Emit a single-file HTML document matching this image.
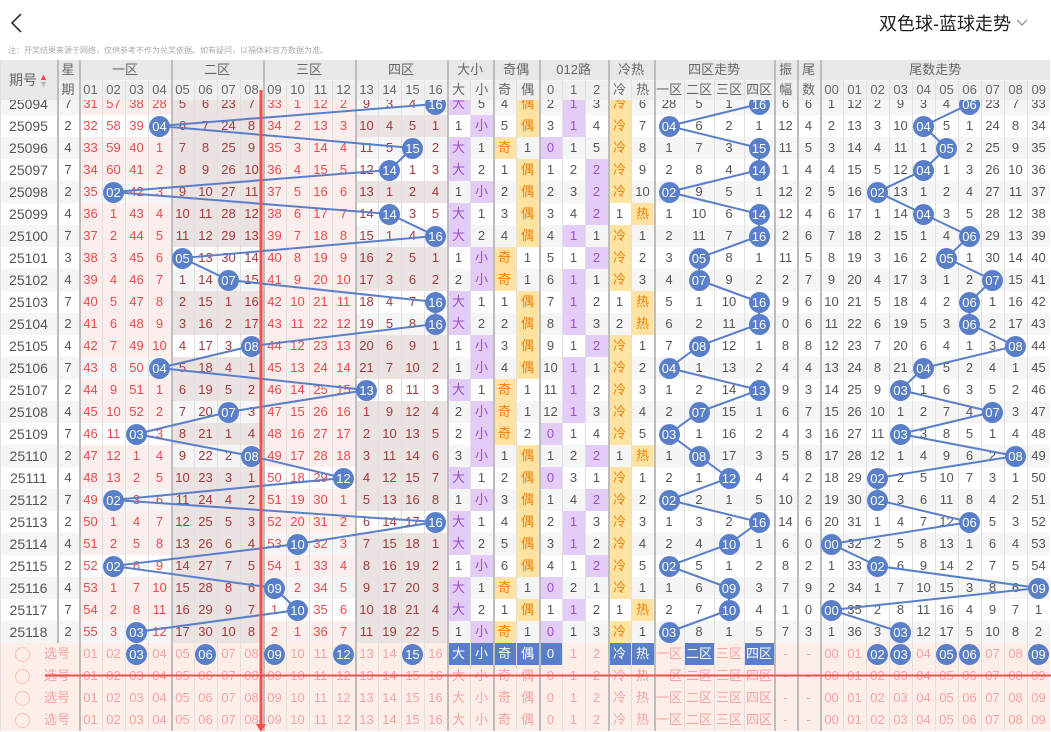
<!DOCTYPE html>
<html><head><meta charset="utf-8">
<style>
*{box-sizing:border-box;margin:0;padding:0}
body{width:1051px;height:732px;overflow:hidden;background:#fff;font-family:"Liberation Sans","Noto Sans CJK SC",sans-serif;position:relative}
table{border-collapse:separate;border-spacing:0;table-layout:fixed;width:1050px}
td{height:22px;text-align:center;font-size:13px;color:#555;padding:0;white-space:nowrap;overflow:visible;box-shadow:inset 1px 0 #e0e0e0;line-height:22px}
#hd{position:absolute;left:0;top:60px;z-index:5;background:#e8e8e8}
#hd td{height:20px;line-height:20px;color:#666;font-size:13px;background:#e8e8e8}
#hd tr.s td{background:#efefef;box-shadow:inset 1px 0 #e0e0e0,inset 0 1px #f6f6f6}
#hd td.g,#hd tr.s td.g{box-shadow:inset 2px 0 #bdbdbd}
#bw{position:absolute;left:0;top:100px;width:1051px;height:543px;overflow:hidden}
#bi{position:absolute;left:0;top:-7px}
#bt tr.e td{background:#f5f5f5}
#bt td:nth-child(n+3):nth-child(-n+6),#bt td:nth-child(n+11):nth-child(-n+14){background:#fdeeee!important;color:#ec4a4a}
#bt td:nth-child(n+7):nth-child(-n+10),#bt td:nth-child(n+15):nth-child(-n+18){background:#ebe2e2!important;color:#a53a3a}
#bt tr.z1 td:nth-child(n+3):nth-child(-n+6),#bt tr.z2 td:nth-child(n+7):nth-child(-n+10),#bt tr.z3 td:nth-child(n+11):nth-child(-n+14),#bt tr.z4 td:nth-child(n+15):nth-child(-n+18){background:#fff!important}
#bt tr.e.z1 td:nth-child(n+3):nth-child(-n+6),#bt tr.e.z2 td:nth-child(n+7):nth-child(-n+10),#bt tr.e.z3 td:nth-child(n+11):nth-child(-n+14),#bt tr.e.z4 td:nth-child(n+15):nth-child(-n+18){background:#f5f5f5!important}
#bt td:nth-child(2),#bt td:nth-child(3),#bt td:nth-child(7),#bt td:nth-child(11),#bt td:nth-child(15),#bt td:nth-child(19),#bt td:nth-child(21),#bt td:nth-child(23),#bt td:nth-child(26),#bt td:nth-child(28),#bt td:nth-child(32),#bt td:nth-child(33),#bt td:nth-child(34){box-shadow:inset 2px 0 #bdbdbd}
#bt td:first-child{font-size:14px;color:#555}
td.p{background:#e3cdf6!important;color:#9a4fd0!important}
td.o{background:#ffe3a2!important;color:#f37d00!important}
.b{position:relative;z-index:3;display:inline-block;width:21px;height:21px;line-height:21px;border-radius:50%;background:#5a7fca;color:#fff;font-size:13px;vertical-align:middle;margin-top:-1px}
#ln{position:absolute;left:0;top:0;z-index:2}
#st{position:absolute;left:0;top:643px}
#st td{background:#fdeee8;color:#f5a3a3;font-size:13px}
#st td:nth-child(2),#st td:nth-child(6),#st td:nth-child(10),#st td:nth-child(14),#st td:nth-child(18),#st td:nth-child(20),#st td:nth-child(22),#st td:nth-child(25),#st td:nth-child(27),#st td:nth-child(31),#st td:nth-child(32),#st td:nth-child(33){box-shadow:inset 2px 0 #bdbdbd}
#st td.f{background:#5a7fca;color:#fff}
.ci{display:inline-block;width:15px;height:15px;border:1px solid #f7c0b8;border-radius:50%;vertical-align:middle;margin-right:14px;margin-left:15px}
</style></head><body>
<svg style="position:absolute;left:10px;top:12px" width="14" height="22"><polyline points="11,2 2,11 11,20" fill="none" stroke="#333" stroke-width="1.6"/></svg>
<div style="position:absolute;left:879px;top:10px;font-size:18px;color:#222;font-family:'Liberation Sans','Noto Sans CJK SC',sans-serif">双色球-蓝球走势</div>
<svg style="position:absolute;left:1016px;top:18px" width="14" height="10"><polyline points="1,2 6,7 11,2" fill="none" stroke="#888" stroke-width="1.2"/></svg>
<div style="position:absolute;left:8px;top:45px;font-size:8px;color:#aaa">注：开奖结果来源于网络，仅供参考不作为兑奖依据。如有疑问，以福体彩官方数据为准。</div>

<table id="hd">
<colgroup><col style="width:57px"><col style="width:22px"><col span="16" style="width:23px"><col span="4" style="width:23px"><col span="3" style="width:23px"><col span="2" style="width:23px"><col span="4" style="width:30px"><col span="2" style="width:23px"><col span="10" style="width:23px"></colgroup>
<tr><td rowspan="2" style="font-size:14px">期号<span style="font-size:9px;display:inline-block;line-height:7px;vertical-align:middle;margin-left:2px"><span style="color:#f44">▲</span><br><span style="color:#bbb">▼</span></span></td><td class="g">星</td><td class="g" colspan="4">一区</td><td class="g" colspan="4">二区</td><td class="g" colspan="4">三区</td><td class="g" colspan="4">四区</td><td class="g" colspan="2">大小</td><td class="g" colspan="2">奇偶</td><td class="g" colspan="3">012路</td><td class="g" colspan="2">冷热</td><td class="g" colspan="4">四区走势</td><td class="g">振</td><td class="g">尾</td><td class="g" colspan="10">尾数走势</td></tr>
<tr class="s"><td class="g">期</td><td class="g">01</td><td>02</td><td>03</td><td>04</td><td class="g">05</td><td>06</td><td>07</td><td>08</td><td class="g">09</td><td>10</td><td>11</td><td>12</td><td class="g">13</td><td>14</td><td>15</td><td>16</td><td class="g">大</td><td>小</td><td class="g">奇</td><td>偶</td><td class="g">0</td><td>1</td><td>2</td><td class="g">冷</td><td>热</td><td class="g">一区</td><td>二区</td><td>三区</td><td>四区</td><td class="g">幅</td><td class="g">数</td><td class="g">00</td><td>01</td><td>02</td><td>03</td><td>04</td><td>05</td><td>06</td><td>07</td><td>08</td><td>09</td></tr>
</table>

<div id="bw"><div id="bi">
<svg id="ln" width="1051" height="560"><g fill="none" stroke="#5a7fca" stroke-width="2">
<polyline points="435.5,11 159.5,33 412.5,55 389.5,77 113.5,99 389.5,121 435.5,143 182.5,165 228.5,187 435.5,209 435.5,231 251.5,253 159.5,275 366.5,297 228.5,319 136.5,341 251.5,363 343.5,385 113.5,407 435.5,429 297.5,451 113.5,473 274.5,495 297.5,517 136.5,539"/>
<polyline points="759,11 669,33 759,55 759,77 669,99 759,121 759,143 699,165 699,187 759,209 759,231 699,253 669,275 759,297 699,319 669,341 699,363 729,385 669,407 759,429 729,451 669,473 729,495 729,517 669,539"/>
<polyline points="969.5,11 923.5,33 946.5,55 923.5,77 877.5,99 923.5,121 969.5,143 946.5,165 992.5,187 969.5,209 969.5,231 1015.5,253 923.5,275 900.5,297 992.5,319 900.5,341 1015.5,363 877.5,385 877.5,407 969.5,429 831.5,451 877.5,473 1038.5,495 831.5,517 900.5,539"/>
</g></svg>
<table id="bt">
<colgroup><col style="width:57px"><col style="width:22px"><col span="16" style="width:23px"><col span="4" style="width:23px"><col span="3" style="width:23px"><col span="2" style="width:23px"><col span="4" style="width:30px"><col span="2" style="width:23px"><col span="10" style="width:23px"></colgroup>
<tr class="e z4"><td>25094</td><td>7</td><td>31</td><td>57</td><td>38</td><td>28</td><td>5</td><td>6</td><td>23</td><td>7</td><td>33</td><td>1</td><td>12</td><td>2</td><td>9</td><td>3</td><td>4</td><td><span class="b">16</span></td><td class="p">大</td><td>5</td><td>4</td><td class="o">偶</td><td>2</td><td class="p">1</td><td>3</td><td class="o">冷</td><td>6</td><td>28</td><td>5</td><td>1</td><td><span class="b">16</span></td><td>6</td><td>6</td><td>1</td><td>12</td><td>2</td><td>9</td><td>3</td><td>4</td><td><span class="b">06</span></td><td>23</td><td>7</td><td>33</td></tr>
<tr class="z1"><td>25095</td><td>2</td><td>32</td><td>58</td><td>39</td><td><span class="b">04</span></td><td>6</td><td>7</td><td>24</td><td>8</td><td>34</td><td>2</td><td>13</td><td>3</td><td>10</td><td>4</td><td>5</td><td>1</td><td>1</td><td class="p">小</td><td>5</td><td class="o">偶</td><td>3</td><td class="p">1</td><td>4</td><td class="o">冷</td><td>7</td><td><span class="b">04</span></td><td>6</td><td>2</td><td>1</td><td>12</td><td>4</td><td>2</td><td>13</td><td>3</td><td>10</td><td><span class="b">04</span></td><td>5</td><td>1</td><td>24</td><td>8</td><td>34</td></tr>
<tr class="e z4"><td>25096</td><td>4</td><td>33</td><td>59</td><td>40</td><td>1</td><td>7</td><td>8</td><td>25</td><td>9</td><td>35</td><td>3</td><td>14</td><td>4</td><td>11</td><td>5</td><td><span class="b">15</span></td><td>2</td><td class="p">大</td><td>1</td><td class="o">奇</td><td>1</td><td class="p">0</td><td>1</td><td>5</td><td class="o">冷</td><td>8</td><td>1</td><td>7</td><td>3</td><td><span class="b">15</span></td><td>11</td><td>5</td><td>3</td><td>14</td><td>4</td><td>11</td><td>1</td><td><span class="b">05</span></td><td>2</td><td>25</td><td>9</td><td>35</td></tr>
<tr class="z4"><td>25097</td><td>7</td><td>34</td><td>60</td><td>41</td><td>2</td><td>8</td><td>9</td><td>26</td><td>10</td><td>36</td><td>4</td><td>15</td><td>5</td><td>12</td><td><span class="b">14</span></td><td>1</td><td>3</td><td class="p">大</td><td>2</td><td>1</td><td class="o">偶</td><td>1</td><td>2</td><td class="p">2</td><td class="o">冷</td><td>9</td><td>2</td><td>8</td><td>4</td><td><span class="b">14</span></td><td>1</td><td>4</td><td>4</td><td>15</td><td>5</td><td>12</td><td><span class="b">04</span></td><td>1</td><td>3</td><td>26</td><td>10</td><td>36</td></tr>
<tr class="e z1"><td>25098</td><td>2</td><td>35</td><td><span class="b">02</span></td><td>42</td><td>3</td><td>9</td><td>10</td><td>27</td><td>11</td><td>37</td><td>5</td><td>16</td><td>6</td><td>13</td><td>1</td><td>2</td><td>4</td><td>1</td><td class="p">小</td><td>2</td><td class="o">偶</td><td>2</td><td>3</td><td class="p">2</td><td class="o">冷</td><td>10</td><td><span class="b">02</span></td><td>9</td><td>5</td><td>1</td><td>12</td><td>2</td><td>5</td><td>16</td><td><span class="b">02</span></td><td>13</td><td>1</td><td>2</td><td>4</td><td>27</td><td>11</td><td>37</td></tr>
<tr class="z4"><td>25099</td><td>4</td><td>36</td><td>1</td><td>43</td><td>4</td><td>10</td><td>11</td><td>28</td><td>12</td><td>38</td><td>6</td><td>17</td><td>7</td><td>14</td><td><span class="b">14</span></td><td>3</td><td>5</td><td class="p">大</td><td>1</td><td>3</td><td class="o">偶</td><td>3</td><td>4</td><td class="p">2</td><td>1</td><td class="o">热</td><td>1</td><td>10</td><td>6</td><td><span class="b">14</span></td><td>12</td><td>4</td><td>6</td><td>17</td><td>1</td><td>14</td><td><span class="b">04</span></td><td>3</td><td>5</td><td>28</td><td>12</td><td>38</td></tr>
<tr class="e z4"><td>25100</td><td>7</td><td>37</td><td>2</td><td>44</td><td>5</td><td>11</td><td>12</td><td>29</td><td>13</td><td>39</td><td>7</td><td>18</td><td>8</td><td>15</td><td>1</td><td>4</td><td><span class="b">16</span></td><td class="p">大</td><td>2</td><td>4</td><td class="o">偶</td><td>4</td><td class="p">1</td><td>1</td><td class="o">冷</td><td>1</td><td>2</td><td>11</td><td>7</td><td><span class="b">16</span></td><td>2</td><td>6</td><td>7</td><td>18</td><td>2</td><td>15</td><td>1</td><td>4</td><td><span class="b">06</span></td><td>29</td><td>13</td><td>39</td></tr>
<tr class="z2"><td>25101</td><td>3</td><td>38</td><td>3</td><td>45</td><td>6</td><td><span class="b">05</span></td><td>13</td><td>30</td><td>14</td><td>40</td><td>8</td><td>19</td><td>9</td><td>16</td><td>2</td><td>5</td><td>1</td><td>1</td><td class="p">小</td><td class="o">奇</td><td>1</td><td>5</td><td>1</td><td class="p">2</td><td class="o">冷</td><td>2</td><td>3</td><td><span class="b">05</span></td><td>8</td><td>1</td><td>11</td><td>5</td><td>8</td><td>19</td><td>3</td><td>16</td><td>2</td><td><span class="b">05</span></td><td>1</td><td>30</td><td>14</td><td>40</td></tr>
<tr class="e z2"><td>25102</td><td>4</td><td>39</td><td>4</td><td>46</td><td>7</td><td>1</td><td>14</td><td><span class="b">07</span></td><td>15</td><td>41</td><td>9</td><td>20</td><td>10</td><td>17</td><td>3</td><td>6</td><td>2</td><td>2</td><td class="p">小</td><td class="o">奇</td><td>1</td><td>6</td><td class="p">1</td><td>1</td><td class="o">冷</td><td>3</td><td>4</td><td><span class="b">07</span></td><td>9</td><td>2</td><td>2</td><td>7</td><td>9</td><td>20</td><td>4</td><td>17</td><td>3</td><td>1</td><td>2</td><td><span class="b">07</span></td><td>15</td><td>41</td></tr>
<tr class="z4"><td>25103</td><td>7</td><td>40</td><td>5</td><td>47</td><td>8</td><td>2</td><td>15</td><td>1</td><td>16</td><td>42</td><td>10</td><td>21</td><td>11</td><td>18</td><td>4</td><td>7</td><td><span class="b">16</span></td><td class="p">大</td><td>1</td><td>1</td><td class="o">偶</td><td>7</td><td class="p">1</td><td>2</td><td>1</td><td class="o">热</td><td>5</td><td>1</td><td>10</td><td><span class="b">16</span></td><td>9</td><td>6</td><td>10</td><td>21</td><td>5</td><td>18</td><td>4</td><td>2</td><td><span class="b">06</span></td><td>1</td><td>16</td><td>42</td></tr>
<tr class="e z4"><td>25104</td><td>2</td><td>41</td><td>6</td><td>48</td><td>9</td><td>3</td><td>16</td><td>2</td><td>17</td><td>43</td><td>11</td><td>22</td><td>12</td><td>19</td><td>5</td><td>8</td><td><span class="b">16</span></td><td class="p">大</td><td>2</td><td>2</td><td class="o">偶</td><td>8</td><td class="p">1</td><td>3</td><td>2</td><td class="o">热</td><td>6</td><td>2</td><td>11</td><td><span class="b">16</span></td><td>0</td><td>6</td><td>11</td><td>22</td><td>6</td><td>19</td><td>5</td><td>3</td><td><span class="b">06</span></td><td>2</td><td>17</td><td>43</td></tr>
<tr class="z2"><td>25105</td><td>4</td><td>42</td><td>7</td><td>49</td><td>10</td><td>4</td><td>17</td><td>3</td><td><span class="b">08</span></td><td>44</td><td>12</td><td>23</td><td>13</td><td>20</td><td>6</td><td>9</td><td>1</td><td>1</td><td class="p">小</td><td>3</td><td class="o">偶</td><td>9</td><td>1</td><td class="p">2</td><td class="o">冷</td><td>1</td><td>7</td><td><span class="b">08</span></td><td>12</td><td>1</td><td>8</td><td>8</td><td>12</td><td>23</td><td>7</td><td>20</td><td>6</td><td>4</td><td>1</td><td>3</td><td><span class="b">08</span></td><td>44</td></tr>
<tr class="e z1"><td>25106</td><td>7</td><td>43</td><td>8</td><td>50</td><td><span class="b">04</span></td><td>5</td><td>18</td><td>4</td><td>1</td><td>45</td><td>13</td><td>24</td><td>14</td><td>21</td><td>7</td><td>10</td><td>2</td><td>1</td><td class="p">小</td><td>4</td><td class="o">偶</td><td>10</td><td class="p">1</td><td>1</td><td class="o">冷</td><td>2</td><td><span class="b">04</span></td><td>1</td><td>13</td><td>2</td><td>4</td><td>4</td><td>13</td><td>24</td><td>8</td><td>21</td><td><span class="b">04</span></td><td>5</td><td>2</td><td>4</td><td>1</td><td>45</td></tr>
<tr class="z4"><td>25107</td><td>2</td><td>44</td><td>9</td><td>51</td><td>1</td><td>6</td><td>19</td><td>5</td><td>2</td><td>46</td><td>14</td><td>25</td><td>15</td><td><span class="b">13</span></td><td>8</td><td>11</td><td>3</td><td class="p">大</td><td>1</td><td class="o">奇</td><td>1</td><td>11</td><td class="p">1</td><td>2</td><td class="o">冷</td><td>3</td><td>1</td><td>2</td><td>14</td><td><span class="b">13</span></td><td>9</td><td>3</td><td>14</td><td>25</td><td>9</td><td><span class="b">03</span></td><td>1</td><td>6</td><td>3</td><td>5</td><td>2</td><td>46</td></tr>
<tr class="e z2"><td>25108</td><td>4</td><td>45</td><td>10</td><td>52</td><td>2</td><td>7</td><td>20</td><td><span class="b">07</span></td><td>3</td><td>47</td><td>15</td><td>26</td><td>16</td><td>1</td><td>9</td><td>12</td><td>4</td><td>2</td><td class="p">小</td><td class="o">奇</td><td>1</td><td>12</td><td class="p">1</td><td>3</td><td class="o">冷</td><td>4</td><td>2</td><td><span class="b">07</span></td><td>15</td><td>1</td><td>6</td><td>7</td><td>15</td><td>26</td><td>10</td><td>1</td><td>2</td><td>7</td><td>4</td><td><span class="b">07</span></td><td>3</td><td>47</td></tr>
<tr class="z1"><td>25109</td><td>7</td><td>46</td><td>11</td><td><span class="b">03</span></td><td>3</td><td>8</td><td>21</td><td>1</td><td>4</td><td>48</td><td>16</td><td>27</td><td>17</td><td>2</td><td>10</td><td>13</td><td>5</td><td>2</td><td class="p">小</td><td class="o">奇</td><td>2</td><td class="p">0</td><td>1</td><td>4</td><td class="o">冷</td><td>5</td><td><span class="b">03</span></td><td>1</td><td>16</td><td>2</td><td>4</td><td>3</td><td>16</td><td>27</td><td>11</td><td><span class="b">03</span></td><td>3</td><td>8</td><td>5</td><td>1</td><td>4</td><td>48</td></tr>
<tr class="e z2"><td>25110</td><td>2</td><td>47</td><td>12</td><td>1</td><td>4</td><td>9</td><td>22</td><td>2</td><td><span class="b">08</span></td><td>49</td><td>17</td><td>28</td><td>18</td><td>3</td><td>11</td><td>14</td><td>6</td><td>3</td><td class="p">小</td><td>1</td><td class="o">偶</td><td>1</td><td>2</td><td class="p">2</td><td>1</td><td class="o">热</td><td>1</td><td><span class="b">08</span></td><td>17</td><td>3</td><td>5</td><td>8</td><td>17</td><td>28</td><td>12</td><td>1</td><td>4</td><td>9</td><td>6</td><td>2</td><td><span class="b">08</span></td><td>49</td></tr>
<tr class="z3"><td>25111</td><td>4</td><td>48</td><td>13</td><td>2</td><td>5</td><td>10</td><td>23</td><td>3</td><td>1</td><td>50</td><td>18</td><td>29</td><td><span class="b">12</span></td><td>4</td><td>12</td><td>15</td><td>7</td><td class="p">大</td><td>1</td><td>2</td><td class="o">偶</td><td class="p">0</td><td>3</td><td>1</td><td class="o">冷</td><td>1</td><td>2</td><td>1</td><td><span class="b">12</span></td><td>4</td><td>4</td><td>2</td><td>18</td><td>29</td><td><span class="b">02</span></td><td>2</td><td>5</td><td>10</td><td>7</td><td>3</td><td>1</td><td>50</td></tr>
<tr class="e z1"><td>25112</td><td>7</td><td>49</td><td><span class="b">02</span></td><td>3</td><td>6</td><td>11</td><td>24</td><td>4</td><td>2</td><td>51</td><td>19</td><td>30</td><td>1</td><td>5</td><td>13</td><td>16</td><td>8</td><td>1</td><td class="p">小</td><td>3</td><td class="o">偶</td><td>1</td><td>4</td><td class="p">2</td><td class="o">冷</td><td>2</td><td><span class="b">02</span></td><td>2</td><td>1</td><td>5</td><td>10</td><td>2</td><td>19</td><td>30</td><td><span class="b">02</span></td><td>3</td><td>6</td><td>11</td><td>8</td><td>4</td><td>2</td><td>51</td></tr>
<tr class="z4"><td>25113</td><td>2</td><td>50</td><td>1</td><td>4</td><td>7</td><td>12</td><td>25</td><td>5</td><td>3</td><td>52</td><td>20</td><td>31</td><td>2</td><td>6</td><td>14</td><td>17</td><td><span class="b">16</span></td><td class="p">大</td><td>1</td><td>4</td><td class="o">偶</td><td>2</td><td class="p">1</td><td>3</td><td class="o">冷</td><td>3</td><td>1</td><td>3</td><td>2</td><td><span class="b">16</span></td><td>14</td><td>6</td><td>20</td><td>31</td><td>1</td><td>4</td><td>7</td><td>12</td><td><span class="b">06</span></td><td>5</td><td>3</td><td>52</td></tr>
<tr class="e z3"><td>25114</td><td>4</td><td>51</td><td>2</td><td>5</td><td>8</td><td>13</td><td>26</td><td>6</td><td>4</td><td>53</td><td><span class="b">10</span></td><td>32</td><td>3</td><td>7</td><td>15</td><td>18</td><td>1</td><td class="p">大</td><td>2</td><td>5</td><td class="o">偶</td><td>3</td><td class="p">1</td><td>2</td><td class="o">冷</td><td>4</td><td>2</td><td>4</td><td><span class="b">10</span></td><td>1</td><td>6</td><td>0</td><td><span class="b">00</span></td><td>32</td><td>2</td><td>5</td><td>8</td><td>13</td><td>1</td><td>6</td><td>4</td><td>53</td></tr>
<tr class="z1"><td>25115</td><td>2</td><td>52</td><td><span class="b">02</span></td><td>6</td><td>9</td><td>14</td><td>27</td><td>7</td><td>5</td><td>54</td><td>1</td><td>33</td><td>4</td><td>8</td><td>16</td><td>19</td><td>2</td><td>1</td><td class="p">小</td><td>6</td><td class="o">偶</td><td>4</td><td>1</td><td class="p">2</td><td class="o">冷</td><td>5</td><td><span class="b">02</span></td><td>5</td><td>1</td><td>2</td><td>8</td><td>2</td><td>1</td><td>33</td><td><span class="b">02</span></td><td>6</td><td>9</td><td>14</td><td>2</td><td>7</td><td>5</td><td>54</td></tr>
<tr class="e z3"><td>25116</td><td>4</td><td>53</td><td>1</td><td>7</td><td>10</td><td>15</td><td>28</td><td>8</td><td>6</td><td><span class="b">09</span></td><td>2</td><td>34</td><td>5</td><td>9</td><td>17</td><td>20</td><td>3</td><td class="p">大</td><td>1</td><td class="o">奇</td><td>1</td><td class="p">0</td><td>2</td><td>1</td><td class="o">冷</td><td>1</td><td>1</td><td>6</td><td><span class="b">09</span></td><td>3</td><td>7</td><td>9</td><td>2</td><td>34</td><td>1</td><td>7</td><td>10</td><td>15</td><td>3</td><td>8</td><td>6</td><td><span class="b">09</span></td></tr>
<tr class="z3"><td>25117</td><td>7</td><td>54</td><td>2</td><td>8</td><td>11</td><td>16</td><td>29</td><td>9</td><td>7</td><td>1</td><td><span class="b">10</span></td><td>35</td><td>6</td><td>10</td><td>18</td><td>21</td><td>4</td><td class="p">大</td><td>2</td><td>1</td><td class="o">偶</td><td>1</td><td class="p">1</td><td>2</td><td>1</td><td class="o">热</td><td>2</td><td>7</td><td><span class="b">10</span></td><td>4</td><td>1</td><td>0</td><td><span class="b">00</span></td><td>35</td><td>2</td><td>8</td><td>11</td><td>16</td><td>4</td><td>9</td><td>7</td><td>1</td></tr>
<tr class="e z1"><td>25118</td><td>2</td><td>55</td><td>3</td><td><span class="b">03</span></td><td>12</td><td>17</td><td>30</td><td>10</td><td>8</td><td>2</td><td>1</td><td>36</td><td>7</td><td>11</td><td>19</td><td>22</td><td>5</td><td>1</td><td class="p">小</td><td class="o">奇</td><td>1</td><td class="p">0</td><td>1</td><td>3</td><td class="o">冷</td><td>1</td><td><span class="b">03</span></td><td>8</td><td>1</td><td>5</td><td>7</td><td>3</td><td>1</td><td>36</td><td>3</td><td><span class="b">03</span></td><td>12</td><td>17</td><td>5</td><td>10</td><td>8</td><td>2</td></tr>
</table>
</div></div>

<table id="st">
<colgroup><col style="width:79px"><col span="16" style="width:23px"><col span="4" style="width:23px"><col span="3" style="width:23px"><col span="2" style="width:23px"><col span="4" style="width:30px"><col span="2" style="width:23px"><col span="10" style="width:23px"></colgroup>
<tr><td style="text-align:left"><span class="ci"></span>选号</td><td>01</td><td>02</td><td><span class="b">03</span></td><td>04</td><td>05</td><td><span class="b">06</span></td><td>07</td><td>08</td><td><span class="b">09</span></td><td>10</td><td>11</td><td><span class="b">12</span></td><td>13</td><td>14</td><td><span class="b">15</span></td><td>16</td><td class="f">大</td><td class="f">小</td><td class="f">奇</td><td class="f">偶</td><td class="f">0</td><td>1</td><td>2</td><td class="f">冷</td><td class="f">热</td><td>一区</td><td class="f">二区</td><td>三区</td><td class="f">四区</td><td>-</td><td>-</td><td>00</td><td>01</td><td><span class="b">02</span></td><td><span class="b">03</span></td><td>04</td><td><span class="b">05</span></td><td><span class="b">06</span></td><td>07</td><td>08</td><td><span class="b">09</span></td></tr>
<tr><td style="text-align:left"><span class="ci"></span>选号</td><td>01</td><td>02</td><td>03</td><td>04</td><td>05</td><td>06</td><td>07</td><td>08</td><td>09</td><td>10</td><td>11</td><td>12</td><td>13</td><td>14</td><td>15</td><td>16</td><td>大</td><td>小</td><td>奇</td><td>偶</td><td>0</td><td>1</td><td>2</td><td>冷</td><td>热</td><td>一区</td><td>二区</td><td>三区</td><td>四区</td><td>-</td><td>-</td><td>00</td><td>01</td><td>02</td><td>03</td><td>04</td><td>05</td><td>06</td><td>07</td><td>08</td><td>09</td></tr>
<tr><td style="text-align:left"><span class="ci"></span>选号</td><td>01</td><td>02</td><td>03</td><td>04</td><td>05</td><td>06</td><td>07</td><td>08</td><td>09</td><td>10</td><td>11</td><td>12</td><td>13</td><td>14</td><td>15</td><td>16</td><td>大</td><td>小</td><td>奇</td><td>偶</td><td>0</td><td>1</td><td>2</td><td>冷</td><td>热</td><td>一区</td><td>二区</td><td>三区</td><td>四区</td><td>-</td><td>-</td><td>00</td><td>01</td><td>02</td><td>03</td><td>04</td><td>05</td><td>06</td><td>07</td><td>08</td><td>09</td></tr>
<tr><td style="text-align:left"><span class="ci"></span>选号</td><td>01</td><td>02</td><td>03</td><td>04</td><td>05</td><td>06</td><td>07</td><td>08</td><td>09</td><td>10</td><td>11</td><td>12</td><td>13</td><td>14</td><td>15</td><td>16</td><td>大</td><td>小</td><td>奇</td><td>偶</td><td>0</td><td>1</td><td>2</td><td>冷</td><td>热</td><td>一区</td><td>二区</td><td>三区</td><td>四区</td><td>-</td><td>-</td><td>00</td><td>01</td><td>02</td><td>03</td><td>04</td><td>05</td><td>06</td><td>07</td><td>08</td><td>09</td></tr>
</table>

<svg style="position:absolute;left:0;top:0;z-index:10;pointer-events:none" width="1051" height="732">
<line x1="261" y1="90" x2="261" y2="726" stroke="#f44f4f" stroke-width="3"/>
<polygon points="256,724 266,724 261,732" fill="#f44f4f"/>
<line x1="45" y1="675.5" x2="1051" y2="675.5" stroke="#f44f4f" stroke-width="2"/>
</svg>
</body></html>
